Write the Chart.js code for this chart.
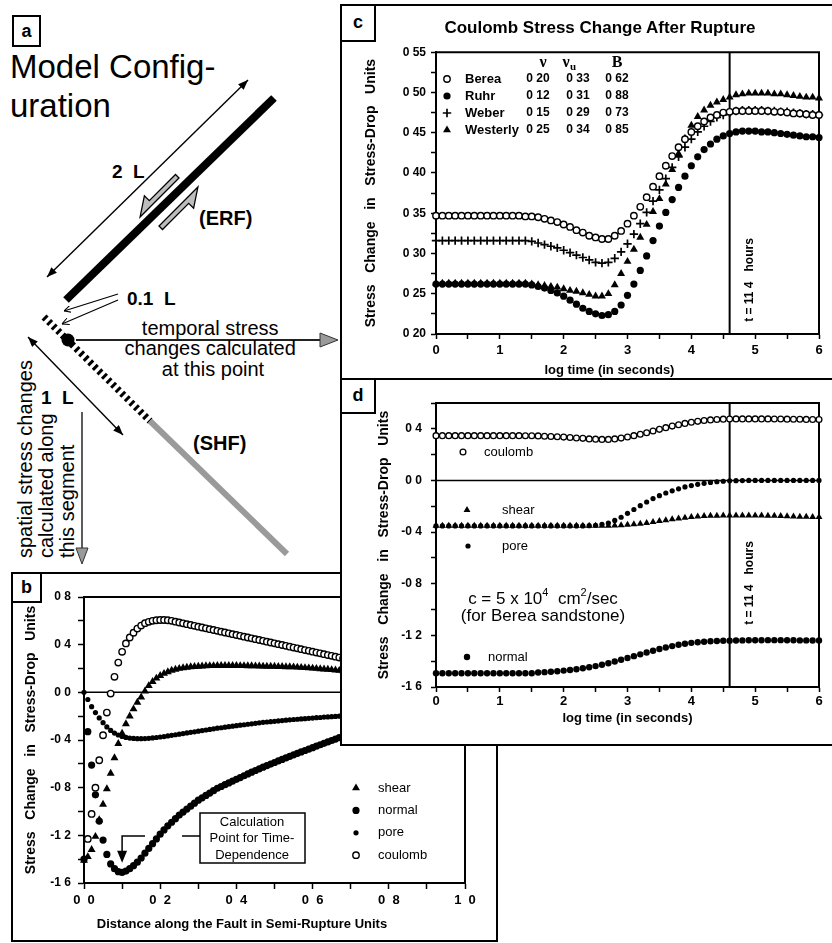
<!DOCTYPE html>
<html lang="en">
<head>
<meta charset="utf-8">
<title>Model configuration and Coulomb stress change</title>
<script src="https://cdn.jsdelivr.net/npm/chart.js@4.4.1/dist/chart.umd.min.js"></script>
<style>
  html, body { margin: 0; padding: 0; background: #fff; }
  #page { position: relative; width: 832px; height: 943px; overflow: hidden; background: #fff;
          font-family: 'Liberation Sans', Arial, Helvetica, sans-serif; color: #000; }
  #page > * { position: absolute; }
  .panel { box-sizing: border-box; border: 2px solid #000; background: #fff; }
  .tag { box-sizing: border-box; border: 2px solid #000; background: #fff; font-weight: bold; font-size: 18px; text-align: center; }
  .note { white-space: nowrap; }
  sup { font-size: 11px; line-height: 0; vertical-align: 8px; }
</style>
</head>
<body>
<div id="page">
  <svg id="diagram" width="340" height="572" style="left:0;top:0;z-index:1" xmlns="http://www.w3.org/2000/svg"
       font-family="'Liberation Sans', Arial, Helvetica, sans-serif">
    <defs>
      <marker id="head" viewBox="0 0 10 8" refX="10" refY="4" markerWidth="10" markerHeight="8"
              markerUnits="userSpaceOnUse" orient="auto-start-reverse">
        <path d="M0,0 L10,4 L0,8 z" fill="#000"/>
      </marker>
      <marker id="thin" viewBox="0 0 8 8" refX="8" refY="4" markerWidth="7" markerHeight="7"
              markerUnits="userSpaceOnUse" orient="auto">
        <path d="M0,0 L8,4 L0,8" fill="none" stroke="#000" stroke-width="1.2"/>
      </marker>
    </defs>
    <rect x="13" y="16" width="27" height="30" fill="#fff" stroke="#000" stroke-width="2"/>
    <text x="26.5" y="37" font-size="18" font-weight="bold" text-anchor="middle">a</text>
    <text x="10" y="78" font-size="33">Model Config-</text>
    <text x="10" y="117" font-size="33">uration</text>

    <!-- earthquake rupture fault -->
    <line x1="248" y1="80" x2="47" y2="277" stroke="#000" stroke-width="1.4" marker-start="url(#head)" marker-end="url(#head)"/>
    <line x1="274" y1="98" x2="66" y2="300" stroke="#000" stroke-width="8"/>
    <polygon points="179,178 175.5,174.5 149.3,200.6 144.4,195.7 140.1,216.9" fill="#bdbdbd" stroke="#000" stroke-width="1.3"/>
    <polygon points="159,226 162.5,229.5 188.7,203.4 193.6,208.3 197.9,187.1" fill="#bdbdbd" stroke="#000" stroke-width="1.3"/>
    <text x="112" y="178" font-size="19" font-weight="bold">2&#160;&#160;L</text>
    <text x="199" y="225" font-size="20" font-weight="bold">(ERF)</text>

    <!-- gap and calculation point -->
    <text x="127" y="305" font-size="19" font-weight="bold">0.1&#160;&#160;L</text>
    <line x1="118" y1="294" x2="64" y2="311" stroke="#000" stroke-width="1.2" marker-end="url(#thin)"/>
    <line x1="118" y1="300" x2="62" y2="324" stroke="#000" stroke-width="1.2" marker-end="url(#thin)"/>
    <line x1="44" y1="317" x2="150" y2="421" stroke="#000" stroke-width="7" stroke-dasharray="3 3.4"/>
    <line x1="150" y1="421" x2="287" y2="554" stroke="#9a9a9a" stroke-width="6"/>
    <circle cx="68" cy="340" r="6.5" fill="#000"/>
    <line x1="76" y1="340" x2="322" y2="340" stroke="#222" stroke-width="2.2"/>
    <polygon points="320,333 338,340 320,347" fill="#9a9a9a" stroke="#333" stroke-width="1"/>
    <text font-size="20" text-anchor="middle">
      <tspan x="213" y="335">temporal stress</tspan>
      <tspan x="213" y="355">changes calculated</tspan>
      <tspan x="213" y="376">at this point</tspan>
    </text>

    <!-- strike-slip host fault segment -->
    <line x1="28" y1="337" x2="123" y2="435" stroke="#000" stroke-width="1.4" marker-start="url(#head)" marker-end="url(#head)"/>
    <text x="41" y="404" font-size="19" font-weight="bold">1&#160;&#160;L</text>
    <text x="193" y="450" font-size="20" font-weight="bold">(SHF)</text>
    <line x1="82" y1="412" x2="82" y2="550" stroke="#333" stroke-width="1.6"/>
    <polygon points="76,548 88,548 82,564" fill="#9a9a9a" stroke="#333" stroke-width="1"/>
    <text font-size="20" transform="translate(32,558) rotate(-90)">spatial stress changes</text>
    <text font-size="20" transform="translate(53,558) rotate(-90)">calculated along</text>
    <text font-size="20" transform="translate(74,558) rotate(-90)">this segment</text>
  </svg>

  <div class="panel" style="left:11px;top:572px;width:487px;height:370px;z-index:1"></div>
  <div class="tag" style="left:11px;top:572px;width:31px;height:31px;line-height:26px;z-index:1">b</div>
  <canvas id="chartB" width="482" height="365" style="left:13px;top:573px;z-index:1"></canvas>

  <div class="panel" style="left:340px;top:4px;width:494px;height:376px;z-index:2"></div>
  <div class="panel" style="left:340px;top:378px;width:494px;height:368px;z-index:2"></div>
  <canvas id="chartC" width="490" height="340" style="left:342px;top:40px;z-index:3"></canvas>
  <canvas id="chartD" width="490" height="365" style="left:342px;top:380px;z-index:3"></canvas>
  <div class="tag" style="left:340px;top:4px;width:36px;height:38px;line-height:32px;z-index:4">c</div>
  <div class="tag" style="left:340px;top:378px;width:36px;height:36px;line-height:30px;z-index:4">d</div>
  <div class="note" style="left:400px;top:17px;width:400px;text-align:center;font-size:17px;font-weight:bold;line-height:22px;z-index:4">Coulomb Stress Change After Rupture</div>
  <div class="note" style="left:443px;top:590px;width:200px;text-align:center;font-size:17px;line-height:17px;z-index:4">c = 5 x 10<sup>4</sup>&nbsp; cm<sup>2</sup>/sec<br>(for Berea sandstone)</div>
</div>

<script>
// ---- panels c and d: stress at the calculation point vs log time (s) ----
const logTime = [0.0,0.1,0.2,0.3,0.4,0.5,0.6,0.7,0.8,0.9,1.0,1.1,1.2,1.3,1.4,1.5,1.6,1.7,1.8,1.9,
  2.0,2.1,2.2,2.3,2.4,2.5,2.6,2.7,2.8,2.9,3.0,3.1,3.2,3.3,3.4,3.5,3.6,3.7,3.8,3.9,
  4.0,4.1,4.2,4.3,4.4,4.5,4.6,4.7,4.8,4.9,5.0,5.1,5.2,5.3,5.4,5.5,5.6,5.7,5.8,5.9,6.0];

// coulomb stress change for four rocks (panel c)
const berea = [0.347,0.347,0.347,0.347,0.347,0.347,0.347,0.347,0.347,0.347,0.347,0.347,0.347,0.347,
  0.346,0.346,0.345,0.343,0.341,0.339,0.336,0.333,0.329,0.326,
  0.322,0.320,0.318,0.318,0.322,0.328,0.337,0.347,0.358,0.370,
  0.383,0.396,0.409,0.421,0.432,0.442,0.451,0.458,0.464,0.469,
  0.472,0.475,0.476,0.477,0.477,0.477,0.477,0.477,0.477,0.476,
  0.476,0.475,0.474,0.474,0.473,0.472,0.472];
const ruhr = [0.262,0.262,0.262,0.262,0.262,0.262,0.262,0.262,0.262,0.262,0.262,0.262,0.262,0.262,0.262,
  0.261,0.259,0.257,0.254,0.251,
  0.247,0.242,0.237,0.232,0.228,0.225,0.223,0.224,0.228,0.236,
  0.248,0.262,0.279,0.297,0.316,0.334,0.351,0.367,0.382,0.396,
  0.409,0.420,0.429,0.436,0.442,0.446,0.449,0.451,0.452,0.452,
  0.452,0.451,0.451,0.450,0.449,0.448,0.447,0.446,0.445,0.445,
  0.444];
const weber = [0.316,0.316,0.316,0.316,0.316,0.316,0.316,0.316,0.316,0.316,0.316,0.316,0.316,0.316,0.316,
  0.315,0.313,0.311,0.309,0.307,
  0.304,0.301,0.298,0.295,0.292,0.289,0.288,0.289,0.294,0.302,
  0.312,0.324,0.337,0.351,0.365,0.379,0.393,0.407,0.420,0.432,
  0.442,0.451,0.458,0.464,0.469,0.472,0.475,0.477,0.478,0.478,
  0.478,0.478,0.477,0.477,0.476,0.476,0.475,0.474,0.473,0.473,
  0.472];
const westerly = [0.263,0.263,0.263,0.263,0.263,0.263,0.263,0.263,0.263,0.263,0.263,0.263,0.263,0.263,0.263,
  0.262,0.261,0.260,0.259,0.258,
  0.256,0.254,0.253,0.251,0.249,0.247,0.247,0.250,0.261,0.275,
  0.290,0.305,0.320,0.336,0.352,0.368,0.386,0.404,0.424,0.443,
  0.459,0.470,0.478,0.484,0.488,0.491,0.494,0.497,0.498,0.499,
  0.499,0.499,0.499,0.498,0.498,0.497,0.496,0.495,0.494,0.494,
  0.493];

// rock properties listed in panel c
const rockNames = ['Berea', 'Ruhr', 'Weber', 'Westerly'];
const nuDrained = [0.20, 0.12, 0.15, 0.25];
const nuUndrained = [0.33, 0.31, 0.29, 0.34];
const skempton = [0.62, 0.88, 0.73, 0.85];

// stress components for Berea sandstone (panel d); coulomb is the Berea curve of panel c
const coulombD = berea;
const shearD = [-0.350,-0.350,-0.350,-0.350,-0.350,-0.350,-0.350,-0.350,-0.350,-0.350,
  -0.350,-0.350,-0.350,-0.350,-0.350,-0.350,-0.350,-0.350,-0.350,-0.350,
  -0.350,-0.350,-0.350,-0.350,-0.350,-0.350,-0.350,-0.350,-0.349,-0.347,
  -0.344,-0.340,-0.335,-0.329,-0.322,-0.315,-0.308,-0.301,-0.294,-0.288,
  -0.283,-0.279,-0.276,-0.274,-0.273,-0.272,-0.272,-0.272,-0.272,-0.272,
  -0.272,-0.272,-0.273,-0.274,-0.276,-0.278,-0.280,-0.281,-0.282,-0.283,
  -0.284];
const poreD = [-0.352,-0.352,-0.352,-0.352,-0.352,-0.352,-0.352,-0.352,-0.352,-0.352,
  -0.352,-0.352,-0.352,-0.352,-0.352,-0.352,-0.352,-0.352,-0.352,-0.352,
  -0.352,-0.352,-0.352,-0.352,-0.350,-0.347,-0.340,-0.330,-0.310,-0.285,
  -0.255,-0.225,-0.195,-0.167,-0.140,-0.118,-0.097,-0.080,-0.065,-0.050,
  -0.040,-0.030,-0.022,-0.015,-0.010,-0.006,-0.003,-0.002,-0.001,0.000,
  0.000,0.000,0.000,0.000,0.000,0.000,0.000,0.000,0.000,0.000,
  0.000];
const normalD = [-1.493,-1.493,-1.493,-1.493,-1.493,-1.493,-1.493,-1.493,-1.493,-1.493,
  -1.493,-1.493,-1.493,-1.493,-1.493,-1.493,-1.488,-1.485,-1.482,-1.478,
  -1.473,-1.468,-1.462,-1.455,-1.447,-1.438,-1.428,-1.416,-1.403,-1.389,
  -1.375,-1.361,-1.347,-1.333,-1.319,-1.306,-1.294,-1.283,-1.273,-1.265,
  -1.258,-1.253,-1.249,-1.246,-1.244,-1.242,-1.241,-1.240,-1.239,-1.238,
  -1.238,-1.238,-1.237,-1.237,-1.237,-1.238,-1.238,-1.239,-1.239,-1.240,
  -1.240];

const hoursMark = 4.6;   // log10 of 11.4 hours in seconds

// ---- panel b: stress along the host fault, semi-rupture units ----
const distB = [0.00,0.01,0.02,0.03,0.04,0.05,0.06,0.07,0.08,0.09,
  0.10,0.11,0.12,0.13,0.14,0.15,0.16,0.17,0.18,0.19,
  0.20,0.21,0.22,0.23,0.24,0.25,0.26,0.27,0.28,0.29,
  0.30,0.31,0.32,0.33,0.34,0.35,0.36,0.37,0.38,0.39,
  0.40,0.41,0.42,0.43,0.44,0.45,0.46,0.47,0.48,0.49,
  0.50,0.51,0.52,0.53,0.54,0.55,0.56,0.57,0.58,0.59,
  0.60,0.61,0.62,0.63,0.64,0.65,0.66,0.67,0.68,0.69,0.70];
const shearB = [-1.41,-1.38,-1.32,-1.21,-1.07,-0.94,-0.81,-0.68,-0.55,-0.43,
  -0.345,-0.265,-0.20,-0.14,-0.085,-0.04,0.01,0.055,0.09,0.118,
  0.140,0.158,0.172,0.184,0.193,0.200,0.205,0.209,0.213,0.216,
  0.218,0.220,0.222,0.223,0.223,0.224,0.224,0.224,0.224,0.224,
  0.224,0.223,0.223,0.222,0.222,0.221,0.220,0.219,0.218,0.218,
  0.217,0.216,0.215,0.214,0.213,0.212,0.210,0.208,0.206,0.204,
  0.202,0.200,0.197,0.195,0.192,0.189,0.186,0.183,0.180,0.177,0.175];
const normalB = [-1.40,-0.33,-0.61,-0.86,-1.08,-1.24,-1.36,-1.44,-1.48,-1.505,
  -1.51,-1.50,-1.48,-1.455,-1.425,-1.39,-1.35,-1.31,-1.27,-1.23,
  -1.19,-1.155,-1.12,-1.09,-1.06,-1.03,-1.005,-0.98,-0.955,-0.93,
  -0.905,-0.885,-0.865,-0.845,-0.825,-0.805,-0.79,-0.775,-0.76,-0.745,
  -0.73,-0.715,-0.70,-0.685,-0.67,-0.656,-0.642,-0.628,-0.615,-0.602,
  -0.589,-0.576,-0.563,-0.55,-0.537,-0.524,-0.512,-0.50,-0.488,-0.476,
  -0.464,-0.452,-0.44,-0.428,-0.416,-0.404,-0.392,-0.38,-0.368,-0.357,-0.346];
const poreB = [0.0,-0.06,-0.12,-0.17,-0.215,-0.255,-0.29,-0.32,-0.342,-0.358,
  -0.37,-0.378,-0.384,-0.387,-0.389,-0.389,-0.388,-0.386,-0.383,-0.379,
  -0.375,-0.371,-0.366,-0.361,-0.356,-0.351,-0.346,-0.341,-0.336,-0.331,
  -0.326,-0.321,-0.316,-0.311,-0.306,-0.301,-0.297,-0.292,-0.288,-0.284,
  -0.28,-0.276,-0.272,-0.268,-0.264,-0.26,-0.256,-0.252,-0.249,-0.246,
  -0.243,-0.24,-0.237,-0.234,-0.231,-0.228,-0.226,-0.223,-0.221,-0.218,
  -0.216,-0.213,-0.211,-0.208,-0.206,-0.204,-0.202,-0.2,-0.198,-0.196,-0.194];
const coulombB = [null,-1.23,-1.02,-0.80,-0.57,-0.36,-0.17,-0.01,0.13,0.25,
  0.34,0.41,0.46,0.50,0.535,0.56,0.58,0.592,0.60,0.605,
  0.607,0.607,0.605,0.60,0.593,0.586,0.579,0.572,0.565,0.558,
  0.551,0.544,0.537,0.530,0.523,0.516,0.509,0.502,0.495,0.488,
  0.481,0.474,0.467,0.460,0.453,0.446,0.439,0.432,0.425,0.418,
  0.411,0.404,0.397,0.390,0.383,0.376,0.369,0.362,0.355,0.348,
  0.341,0.334,0.327,0.320,0.313,0.306,0.299,0.292,0.285,0.278,0.271];

const componentNames = ['shear', 'normal', 'pore', 'coulomb'];

// ---------------------------------------------------------------
const FONT = "'Liberation Sans', Arial, Helvetica, sans-serif";
const SERIF = "'Liberation Serif', 'DejaVu Serif', serif";
const STRESS_TITLE = 'Stress   Change   in   Stress-Drop   Units';

Chart.defaults.font.family = FONT;
Chart.defaults.color = '#000';

const MARK = {
  open:   { pointStyle: 'circle', radius: 3.2, fill: '#fff', borderWidth: 1.4 },
  openSm: { pointStyle: 'circle', radius: 2.9, fill: '#fff', borderWidth: 1.3 },
  dot:    { pointStyle: 'circle', radius: 3.6, fill: '#000', borderWidth: 0 },
  dotMd:  { pointStyle: 'circle', radius: 3.2, fill: '#000', borderWidth: 0 },
  dotSm:  { pointStyle: 'circle', radius: 2.6, fill: '#000', borderWidth: 0 },
  tri:    { pointStyle: 'triangle', radius: 4.6, fill: '#000', borderWidth: 0 },
  triSm:  { pointStyle: 'triangle', radius: 4.0, fill: '#000', borderWidth: 0 },
  plus:   { pointStyle: 'cross', radius: 4.2, fill: '#000', borderWidth: 1.7 }
};

const isMajor = (v, every) => Math.abs(v / every - Math.round(v / every)) < 1e-6;
const fmt2 = v => v.toFixed(2).replace('.', ' ');
const fmt1 = v => v.toFixed(1).replace('.', ' ');
const fmtWide = v => v.toFixed(1).replace('.', '  ');
const fmtInt = v => String(Math.round(v));

function scatter(xs, ys, mark) {
  return {
    data: xs.map((x, i) => ({ x: x, y: ys[i] })).filter(p => p.y !== null),
    pointStyle: mark.pointStyle,
    pointRadius: mark.radius,
    pointBackgroundColor: mark.fill,
    pointBorderColor: '#000',
    pointBorderWidth: mark.borderWidth,
    clip: 10
  };
}

function axis(o) {
  return {
    type: 'linear', min: o.min, max: o.max,
    afterFit: s => { if (s.isHorizontal()) s.height = o.size; else s.width = o.size; },
    border: { color: '#000', width: 2 },
    grid: { drawOnChartArea: false, color: '#000', tickLength: o.tick || 5, tickWidth: 1.5 },
    ticks: {
      stepSize: o.step, autoSkip: false, maxRotation: 0, maxTicksLimit: 200,
      padding: o.pad, color: '#000',
      font: { size: o.fontSize || 12, weight: 'bold' },
      callback: v => isMajor(v, o.every) ? o.fmt(v) : ''
    },
    title: { display: true, text: o.title, color: '#000',
             font: { size: o.titleSize || 13, weight: 'bold' }, padding: 0 }
  };
}

function baseOptions(padding, x, y) {
  return {
    responsive: false, animation: false, devicePixelRatio: 1, events: [],
    layout: { padding: padding },
    plugins: { legend: { display: false }, tooltip: { enabled: false } },
    scales: { x: x, y: y }
  };
}

// drawing helpers for the plugins
function drawFrame(chart) {
  const { ctx, chartArea: a } = chart;
  ctx.save();
  ctx.strokeStyle = '#000'; ctx.lineWidth = 2;
  ctx.beginPath();
  ctx.moveTo(a.left, a.top); ctx.lineTo(a.right, a.top); ctx.lineTo(a.right, a.bottom);
  ctx.stroke();
  ctx.restore();
}
function drawLevel(chart, value) {
  const { ctx, chartArea: a } = chart;
  const py = chart.scales.y.getPixelForValue(value);
  ctx.save();
  ctx.strokeStyle = '#000'; ctx.lineWidth = 1.5;
  ctx.beginPath(); ctx.moveTo(a.left, py); ctx.lineTo(a.right, py); ctx.stroke();
  ctx.restore();
}
function drawTimeMark(chart, value) {
  const { ctx, chartArea: a } = chart;
  const px = chart.scales.x.getPixelForValue(value);
  ctx.save();
  ctx.strokeStyle = '#000'; ctx.lineWidth = 2;
  ctx.beginPath(); ctx.moveTo(px, a.top); ctx.lineTo(px, a.bottom); ctx.stroke();
  ctx.restore();
}
function drawMarker(ctx, mark, x, y) {
  ctx.save();
  ctx.fillStyle = mark.fill; ctx.strokeStyle = '#000'; ctx.lineWidth = mark.borderWidth;
  Chart.helpers.drawPoint(ctx, { pointStyle: mark.pointStyle, radius: mark.radius, borderWidth: mark.borderWidth, rotation: 0 }, x, y);
  ctx.restore();
}
function label(ctx, text, x, y, font, align) {
  ctx.save();
  ctx.fillStyle = '#000'; ctx.font = font; ctx.textAlign = align || 'left'; ctx.textBaseline = 'middle';
  ctx.fillText(text, x, y);
  ctx.restore();
}
function upText(ctx, text, x, y, font) {
  ctx.save();
  ctx.translate(x, y); ctx.rotate(-Math.PI / 2);
  ctx.fillStyle = '#000'; ctx.font = font; ctx.textAlign = 'center'; ctx.textBaseline = 'middle';
  ctx.fillText(text, 0, 0);
  ctx.restore();
}

// ---- panel c ----
const rockMarks = [MARK.open, MARK.dot, MARK.plus, MARK.tri];
const notesC = {
  id: 'notesC',
  beforeDatasetsDraw(chart) {
    drawFrame(chart);
    drawTimeMark(chart, hoursMark);
  },
  afterDatasetsDraw(chart) {
    const ctx = chart.ctx;
    label(ctx, '\u03bd', 201, 23, 'bold 16px ' + SERIF, 'center');
    label(ctx, '\u03bd', 224, 23, 'bold 16px ' + SERIF, 'center');
    label(ctx, 'u', 231, 27, 'bold 11px ' + SERIF, 'center');
    label(ctx, 'B', 275, 23, 'bold 16px ' + SERIF, 'center');
    rockNames.forEach((name, i) => {
      const yy = 39 + i * 17;
      drawMarker(ctx, rockMarks[i], 105, yy);
      label(ctx, name, 123, yy, 'bold 13px ' + FONT);
      label(ctx, fmt2(nuDrained[i]), 196, yy, 'bold 12px ' + FONT, 'center');
      label(ctx, fmt2(nuUndrained[i]), 236, yy, 'bold 12px ' + FONT, 'center');
      label(ctx, fmt2(skempton[i]), 275, yy, 'bold 12px ' + FONT, 'center');
    });
    upText(ctx, 't = 11 4   hours', chart.scales.x.getPixelForValue(hoursMark) + 20, 240, 'bold 12px ' + FONT);
  }
};

new Chart(document.getElementById('chartC'), {
  type: 'scatter',
  data: { datasets: [
    scatter(logTime, berea, MARK.open),
    scatter(logTime, weber, MARK.plus),
    scatter(logTime, westerly, MARK.tri),
    scatter(logTime, ruhr, MARK.dot)
  ] },
  options: baseOptions({ left: 21, top: 7, right: 13, bottom: 2 },
    // trailing spaces keep the caption left of centre, as printed
    axis({ min: 0, max: 6, step: 0.5, every: 1, fmt: fmtInt, size: 44, pad: 4, fontSize: 13,
           title: 'log time (in seconds)          ' }),
    axis({ min: 0.2, max: 0.55, step: 0.025, every: 0.05, fmt: fmt2, size: 73, pad: 5, titleSize: 14, title: STRESS_TITLE })),
  plugins: [notesC]
});

// ---- panel d ----
const marksD = [MARK.triSm, MARK.dotMd, MARK.dotSm, MARK.openSm];
const keyPosD = [[125, 130, 160], [125, 277, 146], [126, 166, 160], [121, 72, 142]];
const notesD = {
  id: 'notesD',
  beforeDatasetsDraw(chart) {
    drawFrame(chart);
    drawLevel(chart, 0);
    drawTimeMark(chart, hoursMark);
  },
  afterDatasetsDraw(chart) {
    const ctx = chart.ctx;
    componentNames.forEach((name, i) => {
      const p = keyPosD[i];
      drawMarker(ctx, marksD[i], p[0], p[1]);
      label(ctx, name, p[2], p[1], '13px ' + FONT);
    });
    upText(ctx, 't = 11 4   hours', chart.scales.x.getPixelForValue(hoursMark) + 20, 203, 'bold 12px ' + FONT);
  }
};

new Chart(document.getElementById('chartD'), {
  type: 'scatter',
  data: { datasets: [
    scatter(logTime, coulombD, MARK.openSm),
    scatter(logTime, shearD, MARK.triSm),
    scatter(logTime, poreD, MARK.dotSm),
    scatter(logTime, normalD, MARK.dotMd)
  ] },
  options: baseOptions({ left: 34, top: 23, right: 13, bottom: 19 },
    axis({ min: 0, max: 6, step: 0.5, every: 1, fmt: fmtInt, size: 39, pad: 2, fontSize: 13, title: 'log time (in seconds)' }),
    axis({ min: -1.6, max: 0.6, step: 0.2, every: 0.4, fmt: fmt1, size: 60, pad: 9, titleSize: 14, title: STRESS_TITLE })),
  plugins: [notesD]
});

// ---- panel b ----
const marksB = [MARK.tri, MARK.dot, MARK.dotSm, MARK.open];
const notesB = {
  id: 'notesB',
  beforeDatasetsDraw(chart) {
    drawFrame(chart);
    drawLevel(chart, 0);
  },
  afterDatasetsDraw(chart) {
    const ctx = chart.ctx;
    componentNames.forEach((name, i) => {
      const yy = 215 + i * 22.4;
      drawMarker(ctx, marksB[i], 343, yy);
      label(ctx, name, 365, yy, '13px ' + FONT);
    });
    // call-out for the point used in panels c and d
    const ax = chart.scales.x.getPixelForValue(0.1);
    const tip = chart.scales.y.getPixelForValue(-1.43);
    ctx.save();
    ctx.strokeStyle = '#000'; ctx.fillStyle = '#fff'; ctx.lineWidth = 1.5;
    ctx.fillRect(187, 240, 105, 50);
    ctx.strokeRect(187, 240, 105, 50);
    ctx.beginPath();
    ctx.moveTo(187, 263); ctx.lineTo(169, 263);
    ctx.moveTo(132, 263); ctx.lineTo(ax, 263); ctx.lineTo(ax, tip - 10);
    ctx.stroke();
    ctx.fillStyle = '#000';
    ctx.beginPath(); ctx.moveTo(ax - 5, tip - 12); ctx.lineTo(ax + 5, tip - 12); ctx.lineTo(ax, tip); ctx.closePath(); ctx.fill();
    ctx.restore();
    label(ctx, 'Calculation', 239, 249, '13px ' + FONT, 'center');
    label(ctx, 'Point for Time-', 239, 265.5, '13px ' + FONT, 'center');
    label(ctx, 'Dependence', 239, 282, '13px ' + FONT, 'center');
  }
};

new Chart(document.getElementById('chartB'), {
  type: 'scatter',
  data: { datasets: [
    scatter(distB, coulombB, MARK.open),
    scatter(distB, shearB, MARK.tri),
    scatter(distB, poreB, MARK.dotSm),
    scatter(distB, normalB, MARK.dot)
  ] },
  options: baseOptions({ left: 10, top: 24, right: 30, bottom: 6 },
    axis({ min: 0, max: 1, step: 0.1, every: 0.2, fmt: fmtWide, size: 49, pad: 4, tick: 6, fontSize: 13,
           title: 'Distance along the Fault in Semi-Rupture Units                  ' }),
    axis({ min: -1.6, max: 0.8, step: 0.2, every: 0.4, fmt: fmt1, size: 61, pad: 7, tick: 6, titleSize: 14, title: STRESS_TITLE })),
  plugins: [notesB]
});
</script>
</body>
</html>
